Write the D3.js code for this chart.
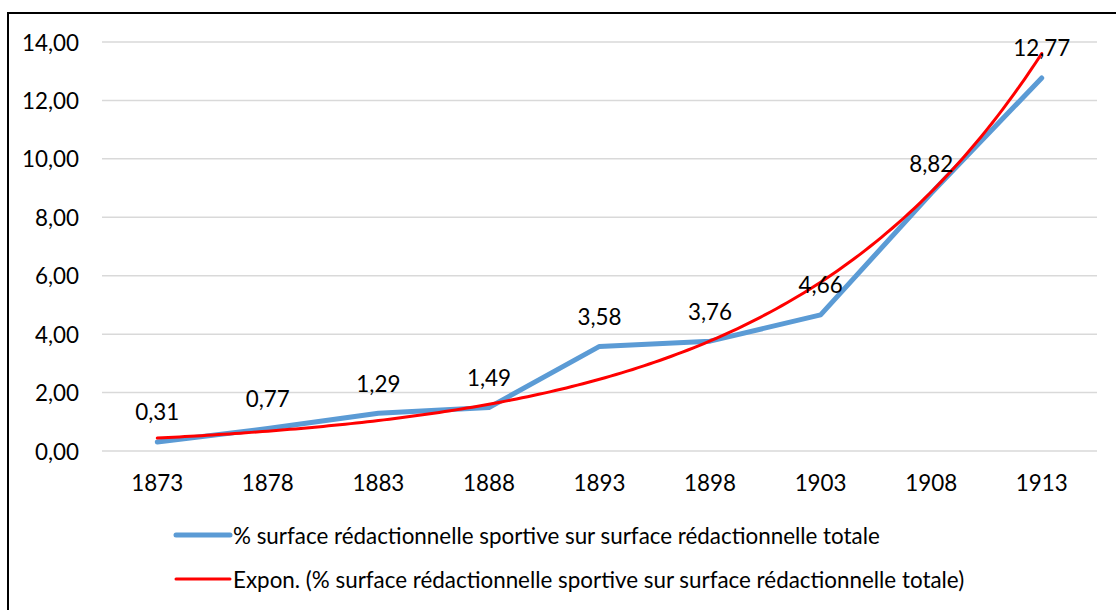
<!DOCTYPE html>
<html lang="fr">
  <head>
    <meta charset="utf-8">
    <title>Surface rédactionnelle sportive</title>
    <style>
      body{ margin: 0; background: white; font-family: Lato, 'Open Sans', sans-serif; }
      .grid line{ stroke: #d9d9d9; stroke-width: 1.5; }
      .lbl{ font-size: 22.4px; fill: #000; }
    </style>
  </head>
  <body>
    <div id='chart'></div>
    <script src="https://d3js.org/d3.v7.min.js"></script>
    <script>
      // data
      const years = ['1873','1878','1883','1888','1893','1898','1903','1908','1913'];
      const values = [0.31, 0.77, 1.29, 1.49, 3.58, 3.76, 4.66, 8.82, 12.77];
      const yTicks = [0, 2, 4, 6, 8, 10, 12, 14];
      const seriesName = '% surface rédactionnelle sportive sur surface rédactionnelle totale';
      const trendName = 'Expon. (' + seriesName + ')';

      const w = 1116, h = 610;
      const fmt = v => d3.format('.2f')(v).replace('.', ',');

      const svg = d3.select('#chart').append('svg').attr('width', w).attr('height', h);

      // chart frame
      svg.append('rect')
        .attr('x', 8).attr('y', 13).attr('width', w).attr('height', h)
        .attr('fill', 'none').attr('stroke', '#000').attr('stroke-width', 2);

      const x = d3.scalePoint().domain(years).range([102, 1097]).padding(0.5);
      const y = d3.scaleLinear().domain([0, 14]).range([451, 42]);

      // gridlines
      svg.append('g').attr('class', 'grid')
        .selectAll('line').data(yTicks).enter().append('line')
        .attr('x1', 102).attr('x2', 1097)
        .attr('y1', d => y(d)).attr('y2', d => y(d));

      // y labels
      svg.append('g').selectAll('text').data(yTicks).enter().append('text')
        .attr('class', 'lbl')
        .attr('x', 79).attr('y', d => y(d))
        .attr('text-anchor', 'end').attr('dominant-baseline', 'central')
        .text(d => fmt(d));

      // x labels
      svg.append('g').selectAll('text').data(years).enter().append('text')
        .attr('class', 'lbl')
        .attr('x', d => x(d)).attr('y', 482)
        .attr('text-anchor', 'middle').attr('dominant-baseline', 'central')
        .text(d => d);

      // series line
      const line = d3.line().x((d, i) => x(years[i])).y(d => y(d));
      svg.append('path').datum(values)
        .attr('d', line)
        .attr('fill', 'none').attr('stroke', '#5b9bd5')
        .attr('stroke-width', 5).attr('stroke-linejoin', 'round').attr('stroke-linecap', 'round');

      // exponential trendline: least squares fit on ln(value), like the spreadsheet does
      const lnv = values.map(Math.log);
      const xm = d3.mean(values, (d, i) => i);
      const lm = d3.mean(lnv);
      const b = d3.sum(lnv, (d, i) => (i - xm) * (d - lm)) / d3.sum(values, (d, i) => (i - xm) * (i - xm));
      const a = Math.exp(lm - b * xm);
      const step = x.step();
      const trend = d3.range(0, 8.001, 0.05).map(t => [x(years[0]) + t * step, y(a * Math.exp(b * t))]);
      svg.append('path').datum(trend)
        .attr('d', d3.line())
        .attr('fill', 'none').attr('stroke', '#ff0000')
        .attr('stroke-width', 3).attr('stroke-linecap', 'round');

      // data labels
      svg.append('g').selectAll('text').data(values).enter().append('text')
        .attr('class', 'lbl')
        .attr('x', (d, i) => x(years[i])).attr('y', d => y(d) - 30)
        .attr('text-anchor', 'middle').attr('dominant-baseline', 'central')
        .text(d => fmt(d));

      // legend
      const legend = svg.append('g');
      const items = [
        {name: seriesName, color: '#5b9bd5', width: 5, y: 535},
        {name: trendName, color: '#ff0000', width: 3, y: 579}
      ];
      items.forEach(it => {
        legend.append('line')
          .attr('x1', 176).attr('x2', 230).attr('y1', it.y).attr('y2', it.y)
          .attr('stroke', it.color).attr('stroke-width', it.width).attr('stroke-linecap', 'round');
        legend.append('text').attr('class', 'lbl')
          .attr('x', 233).attr('y', it.y).attr('dominant-baseline', 'central')
          .text(it.name);
      });
    </script>
  </body>
</html>
